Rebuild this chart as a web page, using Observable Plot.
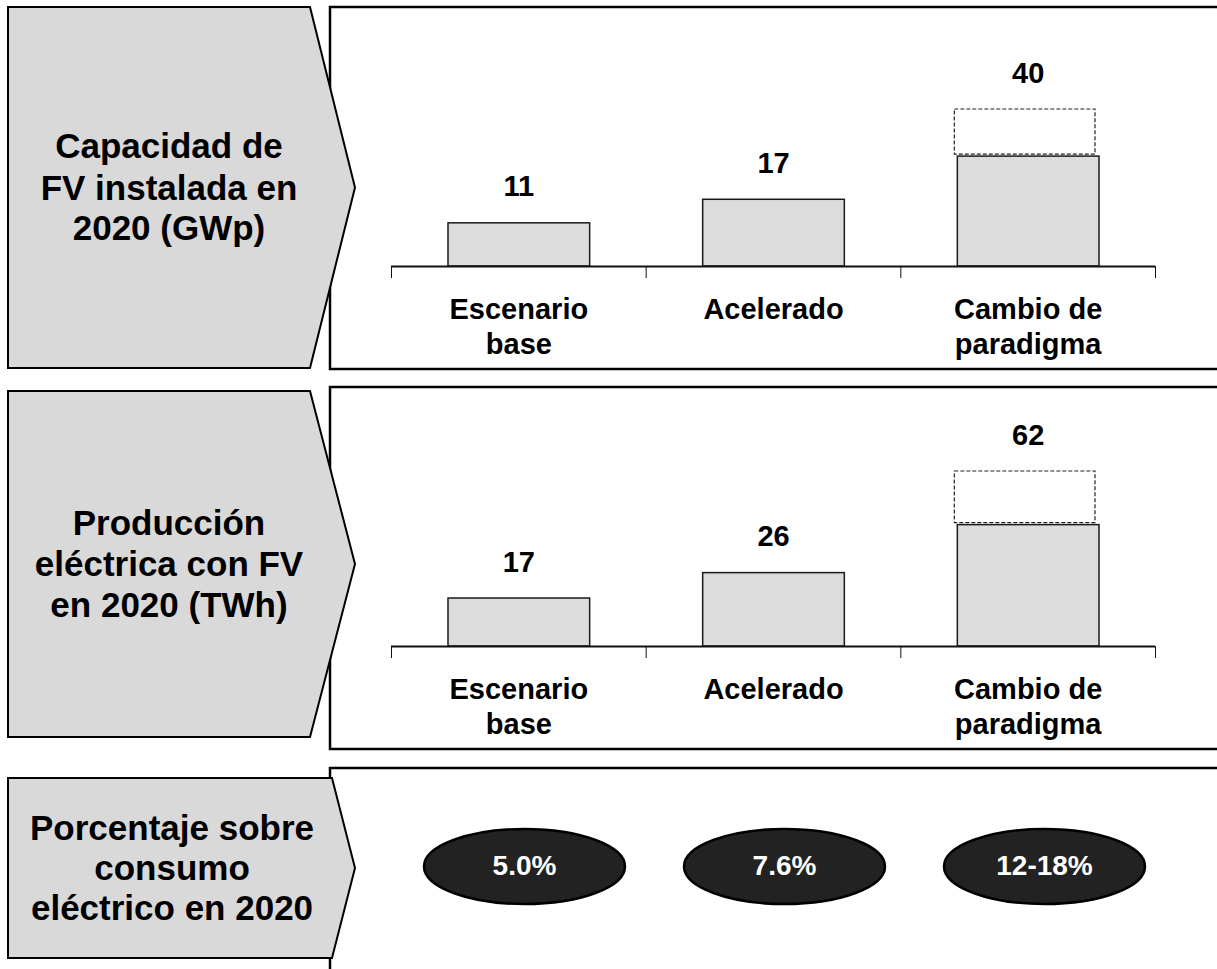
<!DOCTYPE html>
<html><head><meta charset="utf-8">
<script src="https://cdn.jsdelivr.net/npm/d3@7"></script>
<script src="https://cdn.jsdelivr.net/npm/@observablehq/plot@0.6"></script>
<style>
html,body{margin:0;padding:0;background:#fff;}
#wrap{position:relative;width:1217px;height:969px;overflow:hidden;font-family:"Liberation Sans",Arial,sans-serif;}
#wrap > svg{position:absolute;left:0;}
</style></head><body><div id="wrap"></div>
<script>
// ---- data ----
const scenarios = ["Escenario\nbase", "Acelerado", "Cambio de\nparadigma"];
const capacityLow = [11, 17, 28];
const capacityHigh = [11, 17, 40];
const productionLow = [17, 26, 43];
const productionHigh = [17, 26, 62];
const shareLabels = ["5.0%", "7.6%", "12-18%"];
const rowTitles = [
  ["Capacidad de", "FV instalada en", "2020 (GWp)"],
  ["Producción", "eléctrica con FV", "en 2020 (TWh)"],
  ["Porcentaje sobre", "consumo", "eléctrico en 2020"]
];

const FONT = '"Liberation Sans", Arial, sans-serif';
const wrap = document.getElementById("wrap");

// ---- background frames and row titles ----
const bg = d3.select(wrap).append("svg")
  .attr("width", 1217).attr("height", 969).style("top", "0px");

const boxes = [
  {y: 7, h: 362},
  {y: 387, h: 362},
  {y: 768, h: 300}
];
bg.selectAll("rect.box").data(boxes).join("rect")
  .attr("x", 330).attr("y", d => d.y).attr("width", 1000).attr("height", d => d.h)
  .attr("fill", "#fff").attr("stroke", "#000").attr("stroke-width", 2.5);

const arrows = [
  {top: 7, bottom: 368, flat: 310, tip: 355, cx: 169, lines: [158, 200, 240]},
  {top: 391, bottom: 737, flat: 310, tip: 355, cx: 169, lines: [535, 576, 617]},
  {top: 778, bottom: 958, flat: 332, tip: 355, cx: 172, lines: [840, 880, 920]}
];
bg.selectAll("polygon").data(arrows).join("polygon")
  .attr("points", d => [[8, d.top], [d.flat, d.top], [d.tip, (d.top + d.bottom) / 2], [d.flat, d.bottom], [8, d.bottom]].join(" "))
  .attr("fill", "#d9d9d9").attr("stroke", "#000").attr("stroke-width", 2);

arrows.forEach((a, r) => {
  bg.append("g").selectAll("text").data(rowTitles[r]).join("text")
    .attr("x", a.cx).attr("y", (d, i) => a.lines[i])
    .attr("text-anchor", "middle")
    .attr("font-family", FONT).attr("font-weight", "bold").attr("font-size", 35)
    .attr("fill", "#000")
    .text(d => d);
});

// ---- bar panels ----
function barPanel(low, high, top, height, marginTop, marginBottom) {
  const rows = scenarios.map((s, i) => ({i, s, low: low[i], high: high[i]}));
  const ranged = rows.filter(d => d.high > d.low);
  const fig = Plot.plot({
    width: 1217, height, marginTop, marginBottom, marginLeft: 391, marginRight: 62,
    style: {background: "transparent", overflow: "visible", fontFamily: FONT, color: "#111"},
    x: {domain: [0, 3], ticks: [0, 1, 2, 3], tickSize: 12, tickFormat: () => "", label: null, axis: "bottom"},
    y: {domain: [0, d3.max(high)], axis: null},
    marks: [
      Plot.rect(ranged, {x1: "i", x2: d => d.i + 1, y1: "low", y2: "high",
        insetLeft: 54, insetRight: 60, insetBottom: 2,
        fill: "none", stroke: "#222", strokeWidth: 1.2, strokeDasharray: "4,2"}),
      Plot.rect(rows, {x1: "i", x2: d => d.i + 1, y1: 0, y2: "low",
        insetLeft: 57, insetRight: 56,
        fill: "#dcdcdc", stroke: "#1a1a1a", strokeWidth: 1.5}),
      Plot.ruleY([0], {stroke: "#111", strokeWidth: 2}),
      Plot.text(rows, {x: d => d.i + 0.5, y: "high", text: d => String(d.high),
        lineAnchor: "bottom", dy: -27, fontSize: 29, fontWeight: "bold", fill: "#000"}),
      Plot.text(rows, {x: d => d.i + 0.5, y: 0, text: "s",
        lineAnchor: "top", dy: 28, lineHeight: 1.2, fontSize: 29, fontWeight: "bold", fill: "#000"})
    ]
  });
  fig.style.position = "absolute";
  fig.style.top = top + "px";
  fig.style.left = "0px";
  wrap.appendChild(fig);
}

barPanel(capacityLow, capacityHigh, 0, 370, 109, 104);
barPanel(productionLow, productionHigh, 380, 370, 91, 104);

// ---- share ellipses ----
const K = 0.5522847498;
const ellipseSymbol = {
  draw(ctx, size) {
    const ry = Math.sqrt(size / Math.PI), rx = ry * 2.68;
    const kx = rx * K, ky = ry * K;
    ctx.moveTo(rx, 0);
    ctx.bezierCurveTo(rx, ky, kx, ry, 0, ry);
    ctx.bezierCurveTo(-kx, ry, -rx, ky, -rx, 0);
    ctx.bezierCurveTo(-rx, -ky, -kx, -ry, 0, -ry);
    ctx.bezierCurveTo(kx, -ry, rx, -ky, rx, 0);
    ctx.closePath();
  }
};
const shareFig = Plot.plot({
  width: 1217, height: 192, marginTop: 0, marginBottom: 0, marginLeft: 524, marginRight: 173,
  style: {background: "transparent", overflow: "visible", fontFamily: FONT},
  x: {type: "point", domain: scenarios, padding: 0, axis: null},
  marks: [
    Plot.dot(scenarios, {x: d => d, frameAnchor: "middle", r: 37.5, symbol: ellipseSymbol,
      fill: "#222", stroke: "#000", strokeWidth: 2.5}),
    Plot.text(scenarios, {x: d => d, frameAnchor: "middle", text: (d, i) => shareLabels[i],
      fill: "#fff", fontSize: 28, fontWeight: "bold"})
  ]
});
shareFig.style.position = "absolute";
shareFig.style.top = "770px";
shareFig.style.left = "0px";
wrap.appendChild(shareFig);
</script></body></html>
